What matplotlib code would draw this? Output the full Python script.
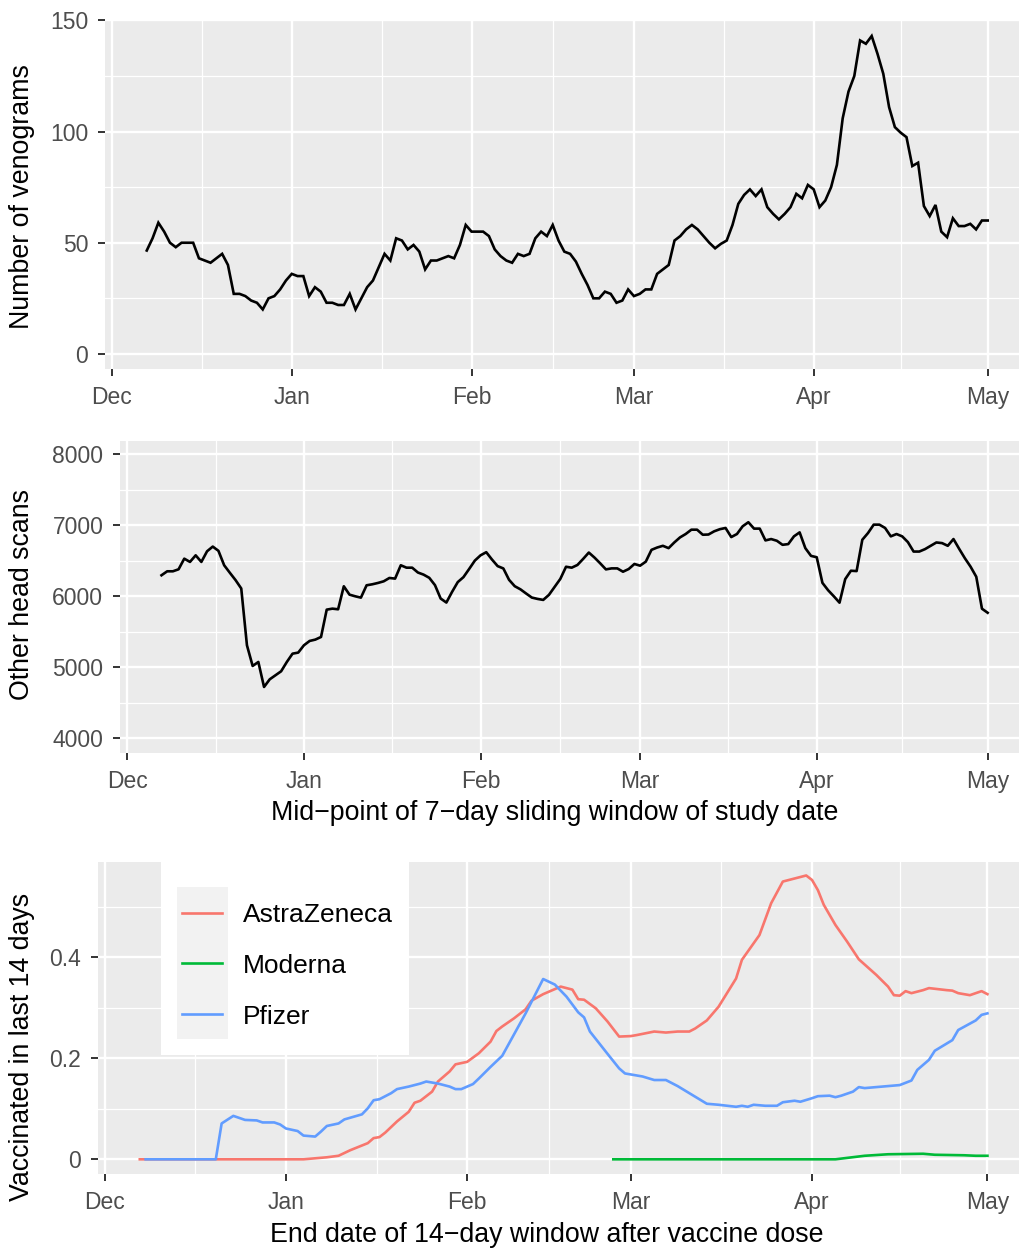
import matplotlib
matplotlib.use('Agg')
import matplotlib.pyplot as plt
from matplotlib.lines import Line2D
from matplotlib.patches import Rectangle
from datetime import datetime, timedelta

plt.rcParams['font.family'] = ['Liberation Sans', 'DejaVu Sans']

# ---------------- data ----------------
start_day = 6  # 2020-12-07 (days after 2020-12-01)
venograms = [46.5, 52, 59, 55, 50, 48, 50, 50, 50, 43, 42, 41, 43, 45, 40, 27, 27, 26, 24, 23, 20, 25, 26, 29, 33,
             36, 35, 35, 26, 30, 28, 23, 23, 22, 22, 27, 20, 25, 30, 33, 39, 45, 42, 52, 51, 47, 49, 46, 38, 42, 42,
             43, 44, 43, 49, 58,
             55, 55, 55, 53, 47, 44, 42, 41, 45, 44, 45, 52, 55, 53, 58, 51, 46, 45, 41.5, 36, 31, 25, 25, 28, 27,
             23, 24, 29,
             26, 27, 29, 29, 36, 38, 40, 51, 53, 56, 58, 56, 53, 50, 47.5, 49.5, 51, 58, 67.5, 71.5, 74, 71, 74, 66,
             63, 60.5, 63, 66, 72, 70, 76,
             74, 66, 69, 75, 85, 106, 118, 125, 141, 139.5, 143, 135, 126, 111, 102, 99.5, 97.5, 84.5, 86, 66.5, 62,
             67, 55, 52.5, 61, 57.5, 57.5, 58.5, 56, 60,
             60]
other_head = [6296, 6352, 6352, 6380, 6530, 6484, 6577, 6484, 6634, 6700, 6640, 6437, 6331, 6228, 6110, 5310, 5019,
              5075, 4723, 4831, 4887, 4944, 5075, 5192, 5207,
              5310, 5371, 5390, 5427, 5812, 5826, 5817, 6141, 6023, 6000, 5981, 6155, 6169, 6188, 6211, 6258, 6249,
              6437, 6403, 6403, 6335, 6305, 6260, 6157, 5968, 5912, 6062, 6200, 6270, 6385, 6503,
              6577, 6621, 6518, 6425, 6392, 6232, 6142, 6098, 6039, 5982, 5963, 5949, 6020, 6133, 6245, 6416, 6403,
              6441, 6526, 6616, 6545, 6464, 6379, 6393, 6393, 6346, 6384, 6455,
              6431, 6488, 6654, 6687, 6711, 6678, 6758, 6829, 6877, 6938, 6938, 6867, 6870, 6915, 6945, 6962, 6834,
              6877, 6986, 7043, 6953, 6953, 6787, 6806, 6782, 6725, 6735, 6844, 6900, 6678, 6569,
              6550, 6189, 6085, 6000, 5910, 6242, 6360, 6355, 6796, 6891, 7009, 7009, 6962, 6844, 6877, 6844, 6763,
              6630, 6630, 6664, 6711, 6758, 6749, 6711, 6806, 6668, 6536, 6417, 6275, 5825,
              5768]

vaccines = ['AstraZeneca', 'Moderna', 'Pfizer']
vacc_colors = ['#F8766D', '#00BA38', '#619CFF']
az_days = [6, 34, 35, 38, 40, 42, 45, 46, 47, 48, 50, 52, 53, 54, 56, 57, 59, 60, 62, 64, 66, 67, 68, 70, 72, 73,
           75, 77, 78, 80, 81, 82, 84, 86, 88, 90, 91, 94, 96, 98, 100, 101, 103, 105, 108, 109, 112, 114, 116,
           118, 120, 121, 122, 123, 125, 127, 129, 132, 134, 135, 136, 137, 138, 140, 141, 144, 145, 146, 148,
           150, 151]
az_vals = [0, 0, 0.001, 0.004, 0.007, 0.018, 0.032, 0.042, 0.044, 0.053, 0.075, 0.094, 0.112, 0.116, 0.134, 0.154,
           0.174, 0.188, 0.193, 0.21, 0.233, 0.254, 0.263, 0.279, 0.297, 0.314, 0.327, 0.337, 0.342, 0.336, 0.317,
           0.316, 0.299, 0.273, 0.243, 0.244, 0.246, 0.253, 0.251, 0.253, 0.253, 0.259, 0.275, 0.302, 0.358, 0.395,
           0.444, 0.507, 0.55, 0.556, 0.562, 0.553, 0.533, 0.504, 0.464, 0.431, 0.396, 0.365, 0.342, 0.325, 0.324,
           0.333, 0.329, 0.335, 0.339, 0.335, 0.334, 0.329, 0.325, 0.333, 0.327]
mo_days = [87, 125, 130, 134, 140, 142, 147, 149, 151]
mo_vals = [0, 0, 0.007, 0.01, 0.011, 0.009, 0.008, 0.007, 0.007]
pf_days = [7, 19, 20, 22, 24, 26, 27, 29, 30, 31, 33, 34, 36, 37, 38, 40, 41, 44, 45, 46, 47, 49, 50, 52, 54, 55,
           57, 59, 60, 61, 63, 64, 66, 68, 72, 75, 77, 79, 81, 82, 83, 86, 88, 89, 92, 94, 96, 98, 101, 103, 105,
           108, 109, 110, 111, 113, 115, 116, 118, 119, 121, 122, 124, 125, 126, 128, 129, 130, 134, 136, 138, 139,
           141, 142, 143, 145, 146, 149, 150, 151]
pf_vals = [0, 0, 0.071, 0.086, 0.078, 0.077, 0.073, 0.073, 0.069, 0.061, 0.056, 0.047, 0.045, 0.055, 0.066, 0.071,
           0.079, 0.089, 0.101, 0.117, 0.119, 0.131, 0.139, 0.144, 0.15, 0.154, 0.15, 0.144, 0.139, 0.139, 0.149,
           0.16, 0.183, 0.205, 0.289, 0.357, 0.346, 0.322, 0.291, 0.281, 0.253, 0.209, 0.18, 0.17, 0.164, 0.157,
           0.157, 0.145, 0.124, 0.11, 0.108, 0.104, 0.106, 0.104, 0.108, 0.106, 0.106, 0.113, 0.116, 0.114, 0.121,
           0.125, 0.126, 0.123, 0.126, 0.134, 0.143, 0.141, 0.145, 0.147, 0.156, 0.177, 0.197, 0.215, 0.222, 0.236,
           0.256, 0.275, 0.286, 0.289]

month_labels = ['Dec', 'Jan', 'Feb', 'Mar', 'Apr', 'May']
month_days = [0, 31, 62, 90, 121, 151]

# ---------------- helpers ----------------
BASE = datetime(2020, 12, 1)


def day(d):
    return BASE + timedelta(days=d)


W, H = 1019, 1249
fig = plt.figure(figsize=(W / 100, H / 100), dpi=100)


def ax_at(x0, y0, x1, y1):
    return fig.add_axes([x0 / W, 1 - y1 / H, (x1 - x0) / W, (y1 - y0) / H])


major_x = [day(d) for d in month_days]
minor_x = [day((a + b) / 2) for a, b in zip(month_days[:-1], month_days[1:])]


def style(ax, x0, x1, ymaj, ymin, ylabels, ylim, pad_y):
    ax.set_facecolor('#EBEBEB')
    for s in ax.spines.values():
        s.set_visible(False)
    ax.set_xticks(major_x)
    ax.set_xticklabels(month_labels)
    ax.set_xticks(minor_x, minor=True)
    ax.set_yticks(ymaj)
    ax.set_yticklabels(ylabels)
    ax.set_yticks(ymin, minor=True)
    ax.grid(which='major', color='white', lw=1.7)
    ax.grid(which='minor', color='white', lw=0.9)
    ax.set_axisbelow(True)
    ax.tick_params(which='major', length=5, width=1.4, color='#333333', labelsize=16.5,
                   labelcolor='#4D4D4D')
    ax.tick_params(axis='y', pad=pad_y)
    ax.tick_params(axis='x', pad=7.5)
    ax.tick_params(which='minor', length=0)
    ax.set_xlim(day(x0), day(x1))
    ax.set_ylim(*ylim)


def place_ylabel(ax, text, xpix, ypix, axbox):
    x0, y0, x1, y1 = axbox
    ax.set_ylabel(text, fontsize=19.3, color='black', va='center', ha='center')
    ax.yaxis.set_label_coords((xpix - x0) / (x1 - x0), (y1 - ypix) / (y1 - y0))


def place_xlabel(ax, text, xpix, ypix, axbox):
    x0, y0, x1, y1 = axbox
    ax.set_xlabel(text, fontsize=19.3, color='black', va='center', ha='center')
    ax.xaxis.set_label_coords((xpix - x0) / (x1 - x0), (y1 - ypix) / (y1 - y0))


dates12 = [day(start_day + i) for i in range(len(venograms))]
LW = 1.9

# ---------------- panel 1 ----------------
box1 = (105, 20, 1019, 369)
ax1 = ax_at(*box1)
style(ax1, -1.2, 156.4, [0, 50, 100, 150], [25, 75, 125], ['0', '50', '100', '150'], (-6.8, 150.2), 7)
ax1.plot(dates12, venograms, color='black', lw=LW, solid_joinstyle='miter')
place_ylabel(ax1, 'Number of venograms', 22, 197, box1)

# ---------------- panel 2 ----------------
box2 = (120, 441, 1019, 753)
ax2 = ax_at(*box2)
style(ax2, -1.28, 156.5, [4000, 5000, 6000, 7000, 8000], [4500, 5500, 6500, 7500],
      ['4000', '5000', '6000', '7000', '8000'], (3793, 8187), 7)
ax2.plot([day(start_day + i) for i in range(len(other_head))], other_head, color='black', lw=LW)
place_ylabel(ax2, 'Other head scans', 22, 595, box2)
place_xlabel(ax2, 'Mid\u2212point of 7\u2212day sliding window of study date', 555, 813, box2)

# ---------------- panel 3 ----------------
box3 = (98, 862, 1019, 1173.5)
ax3 = ax_at(*box3)
style(ax3, -1.15, 156.4, [0, 0.2, 0.4], [0.1, 0.3, 0.5], ['0', '0.2', '0.4'], (-0.0281, 0.5887), 7)
series_days = [az_days, mo_days, pf_days]
series_vals = [az_vals, mo_vals, pf_vals]
for name, col, ds, vs in zip(vaccines, vacc_colors, series_days, series_vals):
    ax3.plot([day(d) for d in ds], vs, color=col, lw=LW, label=name)
place_ylabel(ax3, 'Vaccinated in last 14 days', 22, 1047, box3)
place_xlabel(ax3, 'End date of 14\u2212day window after vaccine dose', 547, 1235, box3)


# ---------------- legend (ggplot style, inside panel 3) ----------------
def fx(x):
    return x / W


def fy(y):
    return 1 - y / H


fig.add_artist(Rectangle((fx(161), fy(1055)), fx(409) - fx(161), fy(862) - fy(1055),
                         transform=fig.transFigure, facecolor='white', edgecolor='none', zorder=5))
fig.add_artist(Rectangle((fx(177), fy(1039)), fx(228) - fx(177), fy(887) - fy(1039),
                         transform=fig.transFigure, facecolor='#F2F2F2', edgecolor='none', zorder=6))
key_y = [912.7, 963.3, 1014]
for name, col, ky in zip(vaccines, vacc_colors, key_y):
    fig.add_artist(Line2D([fx(181.7), fx(222.3)], [fy(ky), fy(ky)], transform=fig.transFigure,
                          color=col, lw=LW, zorder=7))
    fig.text(fx(243), fy(ky), name, fontsize=19, va='center_baseline', ha='left', color='black', zorder=7)

fig.savefig('out.png', dpi=100)
